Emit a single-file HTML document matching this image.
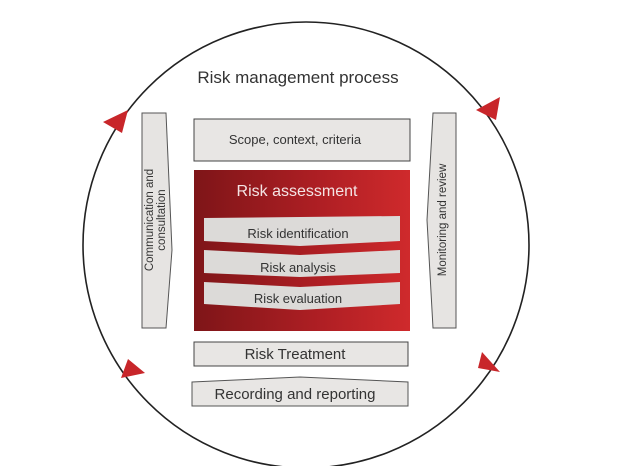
<!DOCTYPE html>
<html><head><style>body{margin:0;background:#fff}svg{display:block}text{font-family:"Liberation Sans",sans-serif;fill:#333}</style></head>
<body>
<svg width="617" height="466" viewBox="0 0 617 466">
<defs>
<linearGradient id="rg" x1="0" x2="1"><stop offset="0" stop-color="#7e1518"/><stop offset="0.6" stop-color="#b01f24"/><stop offset="1" stop-color="#cf2a2c"/></linearGradient>
</defs>
<circle cx="306" cy="245" r="223" fill="none" stroke="#222" stroke-width="1.6"/>
<polygon points="103,122 128,110 122,133" fill="#c8262a"/>
<polygon points="476,110 500,97 496,120" fill="#c8262a"/>
<polygon points="482,352 500,372 478,368" fill="#c8262a"/>
<polygon points="121,378 145,373 128,359" fill="#c8262a"/>
<text x="298" y="83" font-size="17" text-anchor="middle">Risk management process</text>
<polygon points="142,113 166,113 172,250 166,328 142,328" fill="#e6e4e2" stroke="#555" stroke-width="1"/>
<text transform="translate(153,220) rotate(-90)" font-size="11.5" text-anchor="middle">Communication and</text>
<text transform="translate(165,220) rotate(-90)" font-size="11.5" text-anchor="middle">consultation</text>
<polygon points="433,113 456,113 456,328 433,328 427,220" fill="#e6e4e2" stroke="#555" stroke-width="1"/>
<text transform="translate(446,220) rotate(-90)" font-size="11.5" text-anchor="middle">Monitoring and review</text>
<rect x="194" y="119" width="216" height="42" fill="#e8e6e4" stroke="#444" stroke-width="1"/>
<text x="295" y="144" font-size="13" text-anchor="middle">Scope, context, criteria</text>
<rect x="194" y="170" width="216" height="161" fill="url(#rg)"/>
<text x="297" y="196" font-size="16" text-anchor="middle" style="fill:#f4e4e4">Risk assessment</text>
<polygon points="204,218 400,216 400,241 300,246 204,241" fill="#dcdad8"/>
<text x="298" y="238" font-size="13" text-anchor="middle">Risk identification</text>
<polygon points="204,250 300,255 400,250 400,273 300,277 204,273" fill="#dcdad8"/>
<text x="298" y="272" font-size="13" text-anchor="middle">Risk analysis</text>
<polygon points="204,282 300,287 400,282 400,304 300,310 204,304" fill="#dcdad8"/>
<text x="298" y="303" font-size="13" text-anchor="middle">Risk evaluation</text>
<rect x="194" y="342" width="214" height="24" fill="#e8e6e4" stroke="#444" stroke-width="1"/>
<text x="295" y="359" font-size="15" text-anchor="middle">Risk Treatment</text>
<polygon points="192,382 300,377 408,382 408,406 192,406" fill="#e8e6e4" stroke="#555" stroke-width="1"/>
<text x="295" y="399" font-size="15" text-anchor="middle">Recording and reporting</text>
</svg>
</body></html>
